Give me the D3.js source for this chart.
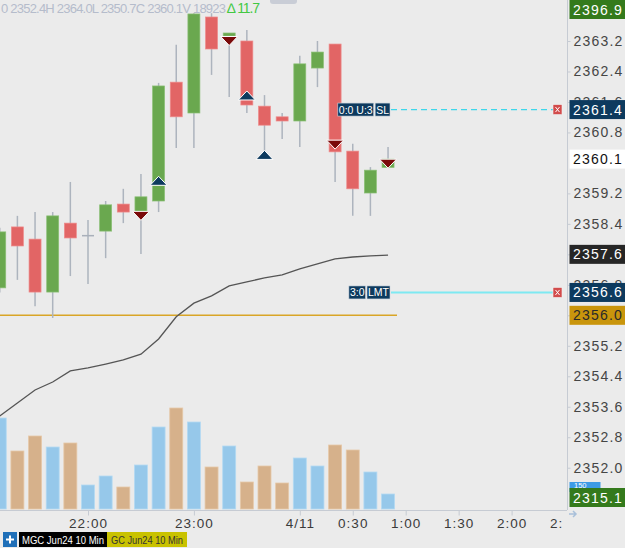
<!DOCTYPE html>
<html>
<head>
<meta charset="utf-8">
<script src="https://cdn.jsdelivr.net/npm/d3@7"></script>
<style>
    body { margin: 0; background: #ebebeb; overflow: hidden; }
    svg { display: block; font-family: "Liberation Sans", Arial, sans-serif; }
</style>
</head>
<body>
<script>
// 10 min bars, MGC Jun24
let times = ["2024-04-10 21:10", "2024-04-10 21:20", "2024-04-10 21:30", "2024-04-10 21:40", "2024-04-10 21:50",
    "2024-04-10 22:00", "2024-04-10 22:10", "2024-04-10 22:20", "2024-04-10 22:30", "2024-04-10 22:40",
    "2024-04-10 22:50", "2024-04-10 23:00", "2024-04-10 23:10", "2024-04-10 23:20", "2024-04-10 23:30",
    "2024-04-10 23:40", "2024-04-10 23:50", "2024-04-11 00:00", "2024-04-11 00:10", "2024-04-11 00:20",
    "2024-04-11 00:30", "2024-04-11 00:40", "2024-04-11 00:50"];
let opens = [2356.72, 2358.32, 2358.00, 2356.61, 2358.42, 2358.11, 2358.21, 2358.92, 2358.71, 2359.00, 2362.12, 2361.31,
    2363.83, 2363.33, 2363.20, 2361.49, 2361.21, 2361.10, 2362.49, 2363.12, 2360.31, 2359.21, 2359.88];
let highs = [2358.30, 2358.61, 2358.71, 2358.71, 2359.50, 2358.50, 2359.00, 2359.32, 2359.71, 2362.10, 2363.10, 2363.93,
    2363.93, 2363.41, 2363.49, 2361.78, 2361.31, 2362.81, 2363.20, 2363.12, 2360.50, 2359.89, 2360.42];
let lows = [2356.60, 2356.93, 2356.24, 2355.93, 2357.03, 2356.82, 2357.50, 2358.42, 2357.61, 2358.71, 2360.39, 2360.39,
    2362.31, 2361.73, 2361.31, 2360.10, 2360.63, 2360.42, 2361.99, 2359.50, 2358.61, 2358.61, 2359.88];
let closes = [2358.19, 2357.82, 2356.61, 2358.61, 2358.03, 2358.11, 2358.90, 2358.71, 2359.11, 2362.02, 2361.21, 2363.91,
    2362.99, 2363.41, 2361.52, 2360.99, 2361.10, 2362.60, 2362.91, 2360.29, 2359.32, 2359.81, 2360.10];
let volumes = [910, 580, 730, 620, 660, 240, 330, 220, 440, 820, 1010, 870, 420, 630, 270, 430, 260, 510, 430, 640, 590, 370, 150];
let sma = [2353.36, 2353.70, 2354.04, 2354.25, 2354.54, 2354.62, 2354.72, 2354.83, 2354.98, 2355.38, 2355.96, 2356.32,
    2356.51, 2356.77, 2356.88, 2356.98, 2357.06, 2357.22, 2357.35, 2357.48, 2357.53, 2357.56, 2357.58];

// fills: time, price, side
let fillTimes = ["2024-04-10 22:30", "2024-04-10 22:40", "2024-04-10 23:20", "2024-04-10 23:30", "2024-04-10 23:40", "2024-04-11 00:20", "2024-04-11 00:50"];
let fillPrices = [2358.61, 2359.53, 2363.20, 2361.77, 2360.21, 2360.48, 2359.98];
let fillSides = ["S", "B", "S", "B", "B", "S", "S"];

let priceTicks = [2352.0, 2352.8, 2353.6, 2354.4, 2355.2, 2356.0, 2356.8, 2357.6, 2358.4, 2359.2, 2360.0, 2360.8, 2361.6, 2362.4, 2363.2];
let timeTicks = ["2024-04-10 22:00", "2024-04-10 23:00", "2024-04-11 00:00", "2024-04-11 00:30", "2024-04-11 01:00", "2024-04-11 01:30", "2024-04-11 02:00", "2024-04-11 02:30"];

let stopPrice = 2361.4, limitPrice = 2356.6, goldPrice = 2356.0, lastPrice = 2360.1, smaLast = 2357.6;

let parse = d3.timeParse("%Y-%m-%d %H:%M");
let data = times.map(function (t, i) {
    return {t: parse(t), o: opens[i], h: highs[i], l: lows[i], c: closes[i], v: volumes[i], s: sma[i]};
});
let fills = fillTimes.map(function (t, i) {
    return {t: parse(t), p: fillPrices[i], side: fillSides[i]};
});

let width = 625, height = 548, plotRight = 567;
let svg = d3.select("body").append("svg")
    .attr("width", width).attr("height", height);

let x = d3.scaleTime()
    .domain([parse("2024-04-10 21:10"), parse("2024-04-11 02:30")])
    .range([-0.25, 564.55]);
let y = d3.scaleLinear().domain([2350.89, 2364.276]).range([510, 0]);
let yv = d3.scaleLinear().domain([0, 1100]).range([509, 399]);

svg.append("clipPath").attr("id", "plot")
    .append("rect").attr("x", 0).attr("y", 0).attr("width", plotRight).attr("height", 510);
let plot = svg.append("g").attr("clip-path", "url(#plot)");

// volume
plot.selectAll(".vol").data(data).enter().append("rect")
    .attr("class", "vol")
    .attr("x", function (d) { return x(d.t) - 6.5; })
    .attr("width", 13)
    .attr("y", function (d) { return yv(d.v); })
    .attr("height", function (d) { return yv(0) - yv(d.v); })
    .attr("fill", function (d) { return d.c >= d.o ? "#96c8ea" : "#d6b18b"; })
    .attr("stroke", function (d) { return d.c >= d.o ? "#b4daf3" : "#e6c9a9"; })
    .attr("stroke-width", 0.8);

// gold line
plot.append("line")
    .attr("x1", 0).attr("x2", 397)
    .attr("y1", y(goldPrice)).attr("y2", y(goldPrice))
    .attr("stroke", "#d9a526").attr("stroke-width", 1.5);

// sma
let line = d3.line().x(function (d) { return x(d.t); }).y(function (d) { return y(d.s); });
plot.append("path").datum(data)
    .attr("d", line)
    .attr("fill", "none").attr("stroke", "#555").attr("stroke-width", 1.3);

// candles
let candle = plot.selectAll(".candle").data(data).enter().append("g").attr("class", "candle");
candle.append("line")
    .attr("x1", function (d) { return x(d.t); }).attr("x2", function (d) { return x(d.t); })
    .attr("y1", function (d) { return y(d.h); }).attr("y2", function (d) { return y(d.l); })
    .attr("stroke", "#adb4be").attr("stroke-width", 1.5);
candle.append("rect")
    .attr("x", function (d) { return x(d.t) - 6; })
    .attr("width", 12)
    .attr("y", function (d) { return y(Math.max(d.o, d.c)); })
    .attr("height", function (d) { return Math.max(1.5, Math.abs(y(d.o) - y(d.c))); })
    .attr("fill", function (d) {
        if (d.o === d.c) return "#a9b0ba";
        return d.c > d.o ? "#6aa84f" : "#e26565";
    })
    .attr("stroke", function (d) {
        if (d.o === d.c) return "none";
        return d.c > d.o ? "#8cc077" : "#ee8c8c";
    })
    .attr("stroke-width", 0.7);

// fill markers
plot.selectAll(".fill").data(fills).enter().append("path")
    .attr("class", "fill")
    .attr("d", function (d) {
        let cx = x(d.t), cy = y(d.p);
        if (d.side === "B") {
            return "M" + (cx - 8.5) + "," + (cy + 4.5) + "L" + cx + "," + (cy - 4.5) + "L" + (cx + 8.5) + "," + (cy + 4.5) + "Z";
        }
        return "M" + (cx - 8.5) + "," + (cy - 4.5) + "L" + cx + "," + (cy + 4.5) + "L" + (cx + 8.5) + "," + (cy - 4.5) + "Z";
    })
    .attr("fill", function (d) { return d.side === "B" ? "#0d3a5e" : "#7a0a0a"; })
    .attr("stroke", "#fff").attr("stroke-width", 1);

// working orders
function orderLine(price, dashed, tags) {
    let g = svg.append("g");
    let yy = y(price);
    g.append("line")
        .attr("x1", 391).attr("x2", 554)
        .attr("y1", yy).attr("y2", yy)
        .attr("stroke", dashed ? "#3ed6ea" : "#7ee9f2")
        .attr("stroke-width", dashed ? 1.2 : 2)
        .attr("stroke-dasharray", dashed ? "6,4" : null);
    let xx = 390;
    tags.slice().reverse().forEach(function (t) {
        let txt = g.append("text")
            .attr("y", yy + 4)
            .attr("text-anchor", "middle").attr("fill", "#fff")
            .attr("font-size", 10.5).text(t);
        let w = txt.node().getComputedTextLength() + 2;
        xx -= w;
        txt.attr("x", xx + w / 2);
        g.insert("rect", "text")
            .attr("x", xx).attr("y", yy - 6.5).attr("width", w).attr("height", 13)
            .attr("fill", "#0d3a5e").attr("stroke", "#c9d3dd").attr("stroke-width", 0.6);
        xx -= 1.5;
    });
    g.append("rect")
        .attr("x", 553).attr("y", yy - 5).attr("width", 9).attr("height", 10)
        .attr("fill", "#d24b4b").attr("stroke", "#f2f2f2").attr("stroke-width", 0.6);
    g.append("path")
        .attr("d", "M555.5," + (yy - 2.5) + "l4,5M559.5," + (yy - 2.5) + "l-4,5")
        .attr("stroke", "#fff").attr("stroke-width", 1);
}
orderLine(stopPrice, true, ["0:0 U:3", "SL"]);
orderLine(limitPrice, false, ["3:0", "LMT"]);

// price axis (labels fully under the last-price tag are left out)
svg.append("line")
    .attr("x1", plotRight + 0.5).attr("x2", plotRight + 0.5).attr("y1", 0).attr("y2", 510)
    .attr("stroke", "#c6cbd3");
let shownTicks = priceTicks.filter(function (p) { return Math.abs(y(p) - y(lastPrice)) > 5; });
let yAxis = svg.append("g")
    .attr("transform", "translate(" + (plotRight + 0.5) + ",0)")
    .call(d3.axisRight(y).tickValues(shownTicks).tickFormat(d3.format(".1f")).tickSize(3).tickPadding(3));
yAxis.select(".domain").remove();
yAxis.selectAll("line").attr("stroke", "#c6cbd3");
yAxis.selectAll("text")
    .attr("fill", "#454545").attr("font-size", 14)
    .attr("font-family", "Liberation Sans, Arial, sans-serif")
    .style("letter-spacing", "1.2px");

function priceTag(label, yy, fill, color) {
    svg.append("rect")
        .attr("x", 569.5).attr("y", yy - 9.5).attr("width", 56).attr("height", 19)
        .attr("fill", fill);
    svg.append("text")
        .attr("x", 573).attr("y", yy + 5)
        .attr("fill", color).attr("font-size", 14)
        .style("letter-spacing", "1.2px")
        .text(label);
}
// volume tag peeks out above the bottom pinned tag
svg.append("rect").attr("x", 569.5).attr("y", 482).attr("width", 31).attr("height", 10).attr("fill", "#3d9be6");
svg.append("text").attr("x", 574).attr("y", 488).attr("fill", "#fff").attr("font-size", 7.5).text("150");

priceTag("2396.9", 9.5, "#347a1c", "#fff");
priceTag(d3.format(".1f")(stopPrice), y(stopPrice), "#0d3a5e", "#fff");
priceTag(d3.format(".1f")(lastPrice), y(lastPrice), "#ffffff", "#111");
priceTag(d3.format(".1f")(smaLast), y(smaLast), "#262626", "#fff");
priceTag(d3.format(".1f")(limitPrice), y(limitPrice), "#0d3a5e", "#fff");
priceTag(d3.format(".1f")(goldPrice), y(goldPrice), "#c9950c", "#2a2a2a");
priceTag("2315.1", 497.5, "#347a1c", "#fff");

// time axis
svg.append("clipPath").attr("id", "xclip")
    .append("rect").attr("x", 0).attr("y", 505).attr("width", 563).attr("height", 30);
svg.append("line")
    .attr("x1", 0).attr("x2", plotRight).attr("y1", 510.5).attr("y2", 510.5)
    .attr("stroke", "#c6cbd3");
let xAxis = svg.append("g")
    .attr("clip-path", "url(#xclip)")
    .append("g")
    .attr("transform", "translate(0,510.5)")
    .call(d3.axisBottom(x).tickValues(timeTicks.map(parse)).tickSize(5).tickPadding(3)
        .tickFormat(function (d) {
            if (d.getHours() === 0 && d.getMinutes() === 0) return (d.getMonth() + 1) + "/" + d.getDate();
            return d3.timeFormat("%-H:%M")(d);
        }));
xAxis.select(".domain").remove();
xAxis.selectAll("line").attr("stroke", "#c6cbd3");
xAxis.selectAll("text")
    .attr("fill", "#3a3a3a").attr("font-size", 13.5)
    .attr("font-family", "Liberation Sans, Arial, sans-serif")
    .style("letter-spacing", "1px");
svg.append("path")
    .attr("d", "M569,514h7M573,511l3,3l-3,3")
    .attr("fill", "none").attr("stroke", "#a9c0da").attr("stroke-width", 1.5);

// header
svg.append("text")
    .attr("x", 1).attr("y", 12.5)
    .attr("fill", "#b5bccb").attr("font-size", 13)
    .attr("textLength", 225).attr("lengthAdjust", "spacing")
    .text("0 2352.4H 2364.0L 2350.7C 2360.1V 18923");
svg.append("text")
    .attr("x", 227).attr("y", 12.5)
    .attr("fill", "#43c843").attr("font-size", 14)
    .attr("textLength", 33).attr("lengthAdjust", "spacing")
    .text("\u2206 11.7");
svg.append("rect")
    .attr("x", 270).attr("y", -5).attr("width", 27).attr("height", 9).attr("rx", 3)
    .attr("fill", "#c9cdd6");

// chart tabs
svg.append("rect").attr("x", 3).attr("y", 532).attr("width", 14).attr("height", 15).attr("fill", "#1f6fb8");
svg.append("path").attr("d", "M6,539.5h8M10,535.5v8").attr("stroke", "#fff").attr("stroke-width", 2);
svg.append("rect").attr("x", 19).attr("y", 532).attr("width", 88).attr("height", 15).attr("fill", "#000");
svg.append("text").attr("x", 22).attr("y", 543.5)
    .attr("fill", "#fff").attr("font-size", 10.5)
    .attr("textLength", 82).attr("lengthAdjust", "spacingAndGlyphs")
    .text("MGC Jun24 10 Min");
svg.append("rect").attr("x", 107).attr("y", 532).attr("width", 80).attr("height", 15).attr("fill", "#c9c200");
svg.append("text").attr("x", 111).attr("y", 543.5)
    .attr("fill", "#333").attr("font-size", 10.5)
    .attr("textLength", 72).attr("lengthAdjust", "spacingAndGlyphs")
    .text("GC Jun24 10 Min");
</script>
</body>
</html>
